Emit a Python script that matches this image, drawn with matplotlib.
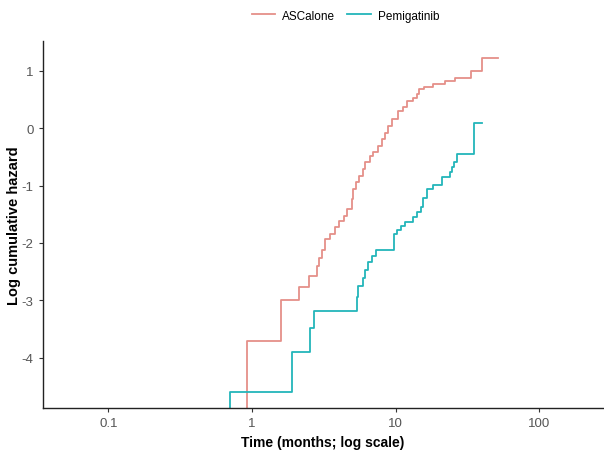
""" Log cumulative hazard plot, ASCalone vs Pemigatinib """
import numpy as np
import matplotlib
import matplotlib.pyplot as plt

matplotlib.use('Agg')
plt.rcParams['font.family'] = ['Liberation Sans', 'DejaVu Sans']
plt.rcParams['axes.unicode_minus'] = False

groups = ['ASCalone', 'Pemigatinib']
colors = ['#E59089', '#23B5BA']

# event times (months) and log cumulative hazard after each event
asc_time = [0.927, 1.592, 2.135, 2.506, 2.849, 2.942, 3.058, 3.224, 3.494, 3.784,
            4.055, 4.372, 4.609, 4.947, 5.076, 5.300, 5.588, 5.901, 6.122, 6.633,
            6.994, 7.576, 8.002, 8.437, 8.897, 9.438, 10.44, 11.20, 12.06, 13.15,
            14.16, 14.62, 15.77, 18.30, 22.08, 25.93, 33.50, 39.78]
asc_loghaz = [-3.702, -2.991, -2.770, -2.584, -2.410, -2.270, -2.117, -1.934, -1.838, -1.730,
              -1.615, -1.528, -1.411, -1.237, -1.063, -0.946, -0.831, -0.714, -0.598, -0.483,
              -0.423, -0.308, -0.192, -0.075, 0.040, 0.157, 0.301, 0.375, 0.476, 0.535,
              0.592, 0.679, 0.726, 0.779, 0.824, 0.883, 0.998, 1.232]
asc_end = 51.9

pem_time = [0.706, 1.899, 2.535, 2.724, 5.411, 5.499, 5.959, 6.122, 6.454, 6.817,
            7.303, 9.747, 10.18, 10.91, 11.63, 13.28, 14.03, 14.96, 15.59, 16.47,
            18.30, 20.94, 23.92, 24.82, 25.63, 26.90, 35.16, 35.50]
pem_loghaz = [-4.594, -3.894, -3.484, -3.183, -2.949, -2.758, -2.618, -2.469, -2.340, -2.225,
              -2.120, -1.847, -1.772, -1.702, -1.632, -1.556, -1.469, -1.382, -1.225, -1.063,
              -0.993, -0.859, -0.772, -0.685, -0.587, -0.453, -0.192, 0.096]
pem_end = 39.78

XLIM = (0.0348, 280)
YLIM = (-4.88, 1.52)

fig = plt.figure(figsize=(6.04, 4.52), dpi=100)
ax = fig.add_axes([0.0707, 0.095, 0.928, 0.812])

for name, col, t, h, t_end in [(groups[0], colors[0], asc_time, asc_loghaz, asc_end),
                               (groups[1], colors[1], pem_time, pem_loghaz, pem_end)]:
    # start below the axis (log of zero hazard), then step up at each event
    xs = np.r_[t[0], t, t_end]
    ys = np.r_[YLIM[0] - 2, h, h[-1]]
    ax.step(xs, ys, where='post', color=col, lw=1.3, label=name)

ax.set_xscale('log')
ax.set_xlim(*XLIM)
ax.set_ylim(*YLIM)
ax.set_xticks([0.1, 1, 10, 100])
ax.set_xticklabels(['0.1', '1', '10', '100'])
ax.minorticks_off()
ax.set_yticks([-4, -3, -2, -1, 0, 1])

for side in ['top', 'right']:
    ax.spines[side].set_visible(False)
for side in ['left', 'bottom']:
    ax.spines[side].set_linewidth(1.0)
    ax.spines[side].set_color('#222222')
ax.tick_params(axis='both', colors='#333333', labelcolor='#555555', labelsize=9.5,
               length=3, width=0.8)

ax.set_xlabel('Time (months; log scale)', fontsize=10, fontweight='bold', labelpad=4)
ax.set_ylabel('Log cumulative hazard', fontsize=10.5, fontweight='bold')
ax.yaxis.set_label_coords(-0.038, 0.5)

fig.legend(loc='upper center', bbox_to_anchor=(0.572, 1.0), ncol=2, frameon=False,
           fontsize=8.5, handlelength=2.0, columnspacing=1.0, handletextpad=0.6)

fig.savefig('out.png', dpi=100)
plt.close()
